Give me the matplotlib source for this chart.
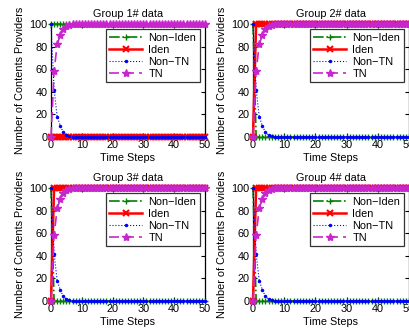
import matplotlib
matplotlib.use("Agg")
import matplotlib.pyplot as plt
import numpy as np

plt.rcParams['font.family'] = ['Liberation Sans', 'DejaVu Sans']

steps = list(range(0, 51))
titles = ["Group 1# data", "Group 2# data", "Group 3# data", "Group 4# data"]
labels = ["Non\u2212Iden", "Iden", "Non\u2212TN", "TN"]

non_iden_g1 = [100] * 51
iden_g1 = [0] * 51
non_iden_g234 = [100] + [0] * 50
iden_g234 = [0] + [100] * 50
non_tn = [100, 42, 18, 10, 4, 1.5, 0.6, 0.2, 0.1] + [0] * 42
tn = [0, 58, 82, 90, 96, 98.5, 99.4, 99.8, 99.9] + [100] * 42

groups = [
    (non_iden_g1, iden_g1, non_tn, tn),
    (non_iden_g234, iden_g234, non_tn, tn),
    (non_iden_g234, iden_g234, non_tn, tn),
    (non_iden_g234, iden_g234, non_tn, tn),
]

fig = plt.figure(figsize=(4.10, 3.34), dpi=100)
W, H = 410, 334
boxes = [(51, 24, 205, 137), (253, 24, 409, 137),
         (51, 188, 205, 301), (253, 188, 409, 301)]

green = (0, 0.5, 0)
magenta = (0.78, 0.15, 0.8)
FS = 7.8

for (x0, y0, x1, y1), title, data in zip(boxes, titles, groups):
    ax = fig.add_axes([x0 / W, 1 - y1 / H, (x1 - x0) / W, (y1 - y0) / H])
    a, b, c, d = data
    ax.plot(steps, a, color=green, linestyle='-.', marker='+', markersize=5,
            linewidth=1.2, label=labels[0], clip_on=False, zorder=3)
    ax.plot(steps, b, color='red', linestyle='-', marker='x', markersize=4,
            markeredgewidth=1.5, linewidth=1.8, label=labels[1], clip_on=False, zorder=4)
    ax.plot(steps, c, color='blue', linestyle=':', marker='.', markersize=3,
            linewidth=0.8, label=labels[2], clip_on=False, zorder=5)
    ax.plot(steps, d, color=magenta, linestyle='--', marker='*', markersize=6,
            linewidth=1.2, dashes=(6, 3), label=labels[3], clip_on=False, zorder=6)
    ax.set_xlim(0, 50)
    ax.set_ylim(0, 100)
    ax.set_xticks([0, 10, 20, 30, 40, 50])
    ax.set_yticks([0, 20, 40, 60, 80, 100])
    ax.tick_params(direction='in', labelsize=FS, length=3, pad=2.5,
                   top=True, right=True)
    for s in ax.spines.values():
        s.set_linewidth(0.9)
    ax.set_title(title, fontsize=FS, pad=5)
    ax.set_xlabel("Time Steps", fontsize=FS, labelpad=2)
    ax.set_ylabel("Number of Contents Providers", fontsize=FS, labelpad=3)
    leg = ax.legend(loc='upper right', fontsize=FS, frameon=True, fancybox=False,
                    edgecolor='black', borderpad=0.3, labelspacing=0.2,
                    handlelength=3.0, handletextpad=0.6, borderaxespad=0.5)
    leg.get_frame().set_linewidth(0.9)

fig.savefig("out.png", dpi=100)
